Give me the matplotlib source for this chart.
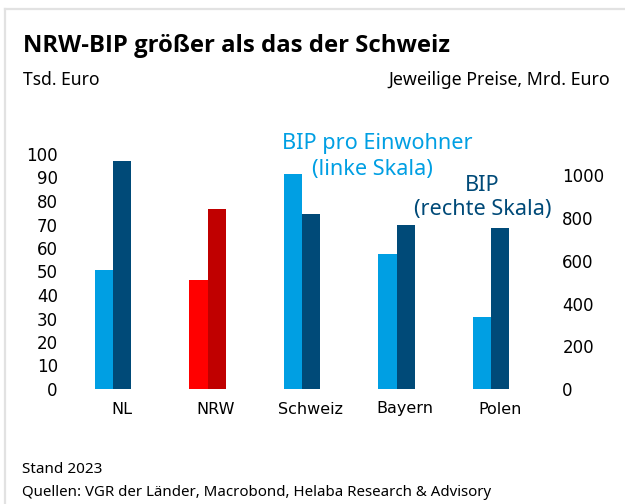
import matplotlib
matplotlib.use("Agg")
import matplotlib.pyplot as plt
import numpy as np
from matplotlib.lines import Line2D

# data (Stand 2023)
laender = ["NL", "NRW", "Schweiz", "Bayern", "Polen"]
bip_pro_kopf = [50.5, 46.5, 91.5, 57.5, 30.5]      # Tsd. Euro, linke Skala
bip = [1068, 842, 820, 767, 752]                   # Mrd. Euro, rechte Skala
left_ticks = [0, 10, 20, 30, 40, 50, 60, 70, 80, 90, 100]
right_ticks = [0, 200, 400, 600, 800, 1000]

hellblau = "#009FE3"
dunkelblau = "#004A78"
rot_hell = "#FF0000"
rot_dunkel = "#C00000"
TXT = "Noto Sans"
BOLD = "Open Sans"

W, H = 625, 504
fig = plt.figure(figsize=(W / 100, H / 100), dpi=100)

def fx(px):
    return px / W

def fy(py):
    return 1 - py / H

# light gray frame top + left
fig.add_artist(Line2D([fx(5), 1], [fy(9), fy(9)], color="#E2E2E2", lw=1.6))
fig.add_artist(Line2D([fx(5), fx(5)], [0, fy(9)], color="#E2E2E2", lw=1.6))

ax_l, ax_r, ax_t, ax_b = 62, 556, 154, 389
ax = fig.add_axes([fx(ax_l), fy(ax_b), fx(ax_r - ax_l), (ax_b - ax_t) / H])
ax2 = ax.twinx()

x = np.arange(len(laender))
bw = 0.194
c_l = [rot_hell if l == "NRW" else hellblau for l in laender]
c_d = [rot_dunkel if l == "NRW" else dunkelblau for l in laender]
ax.bar(x - bw / 2, bip_pro_kopf, bw, color=c_l, zorder=2)
ax2.bar(x + bw / 2, bip, bw, color=c_d, zorder=2)

ax.set_xlim(-0.541, 4.687)
ax.set_ylim(0, 100)
ax2.set_ylim(0, 1100)
ax.set_yticks(left_ticks)
ax2.set_yticks(right_ticks)
ax.set_xticks(x + 0.09)
ax.set_xticklabels(laender)

for a in (ax, ax2):
    for s in a.spines.values():
        s.set_visible(False)
    a.tick_params(length=0)
ax.tick_params(axis="y", labelsize=12, pad=3)
ax2.tick_params(axis="y", labelsize=12, pad=4.5)
ax.tick_params(axis="x", labelsize=11.5, pad=9)

# titles
fig.text(fx(23), fy(52), "NRW-BIP größer als das der Schweiz", family=BOLD,
         fontsize=17.2, fontweight="bold", va="baseline", ha="left")
fig.text(fx(23), fy(85), "Tsd. Euro", family=TXT, fontsize=12.6,
         va="baseline", ha="left")
fig.text(fx(610), fy(85), "Jeweilige Preise, Mrd. Euro", family=TXT,
         fontsize=12.8, va="baseline", ha="right")

# series labels
fig.text(fx(377), fy(149), "BIP pro Einwohner", family=TXT, fontsize=15.6,
         color=hellblau, ha="center", va="baseline")
fig.text(fx(372), fy(175), "(linke Skala)", family=TXT, fontsize=15.6,
         color=hellblau, ha="center", va="baseline")
fig.text(fx(482), fy(191), "BIP", family=TXT, fontsize=15.6,
         color=dunkelblau, ha="center", va="baseline")
fig.text(fx(483), fy(215), "(rechte Skala)", family=TXT, fontsize=15.6,
         color=dunkelblau, ha="center", va="baseline")

# footer
fig.text(fx(22), fy(473), "Stand 2023", family=TXT, fontsize=11,
         va="baseline", ha="left")
fig.text(fx(22), fy(496), "Quellen: VGR der Länder, Macrobond, Helaba Research & Advisory",
         family=TXT, fontsize=10.8, va="baseline", ha="left")

fig.savefig("out.png", dpi=100)
